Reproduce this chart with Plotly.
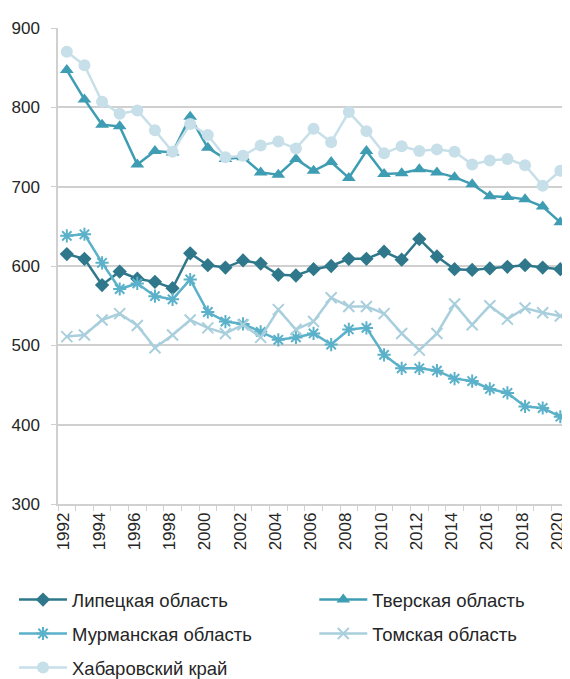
import plotly.graph_objects as go

years = list(range(1992, 2021))
tick_years = list(range(1992, 2021, 2))

lipetsk = [615, 609, 576, 593, 584, 580, 572, 616, 601, 598, 607, 603, 589, 588, 596,
           600, 609, 609, 618, 608, 634, 612, 596, 595, 597, 599, 601, 598, 596]
tver = [847, 810, 778, 776, 728, 745, 743, 788, 749, 735, 737, 718, 715, 735, 720,
        731, 711, 745, 716, 717, 722, 718, 712, 703, 688, 687, 684, 675, 655]
murmansk = [638, 640, 604, 571, 578, 562, 558, 583, 542, 530, 527, 517, 507, 510, 515,
            501, 520, 522, 488, 471, 471, 468, 458, 455, 445, 440, 423, 421, 410]
tomsk = [511, 513, 532, 540, 525, 497, 513, 532, 522, 515, 526, 510, 545, 520, 530,
         560, 549, 549, 540, 515, 494, 515, 552, 526, 550, 533, 547, 541, 537]
khabarovsk = [870, 853, 807, 792, 796, 771, 744, 779, 765, 737, 739, 752, 757, 748, 773,
              756, 794, 770, 742, 751, 745, 747, 744, 728, 733, 735, 727, 701, 720]

# name, values, color, symbol, size, legend id, legend x (container), legend y (container)
series = [
    ("Липецкая область", lipetsk, "#2F788B", "diamond", 11, "legend", 0.0107, 0.1177),
    ("Тверская область", tver, "#3F9DB3", "triangle-up", 12, "legend2", 0.545, 0.1177),
    ("Мурманская область", murmansk, "#5BB1C9", "asterisk-open", 11, "legend3", 0.0107, 0.0671),
    ("Томская область", tomsk, "#A9CFDD", "x-thin-open", 11, "legend4", 0.545, 0.0671),
    ("Хабаровский край", khabarovsk, "#C7DFE8", "circle", 12, "legend5", 0.0107, 0.0164),
]

FONT_FAMILY = "Liberation Sans, Arial, sans-serif"
font = dict(family=FONT_FAMILY, size=18.5, color="#262626")

fig = go.Figure()
legends = {}
for name, vals, color, sym, size, lg, lx, ly in series:
    open_sym = sym.endswith("open")
    fig.add_trace(go.Scatter(
        x=years, y=vals, name=name, mode="lines+markers",
        line=dict(color=color, width=2.5),
        marker=dict(symbol=sym, size=size, color=color,
                    line=dict(color=color, width=2 if open_sym else 0)),
        legend=lg, cliponaxis=False,
    ))
    legends[lg] = dict(orientation="h", x=lx, y=ly, xref="container", yref="container",
                       xanchor="left", yanchor="middle",
                       font=font, bgcolor="rgba(0,0,0,0)", itemwidth=48)

axis_font = dict(family=FONT_FAMILY, size=17, color="#262626")

fig.update_layout(
    width=562, height=671,
    margin=dict(l=50, r=0, t=20, b=175),
    plot_bgcolor="white", paper_bgcolor="white",
    font=font,
    showlegend=True,
    **legends,
    xaxis=dict(
        range=[1991.5, 2020.55], tickmode="array", tickvals=tick_years,
        ticktext=[str(y) for y in tick_years], tickangle=-90,
        showgrid=False, showline=True, linecolor="#D0D0D0", linewidth=1.5,
        ticks="", ticklabeloverflow="allow", automargin=False, ticklabelshift=-3,
        minor=dict(tick0=1991.5, dtick=1, ticks="outside", ticklen=5,
                   tickcolor="#D0D0D0", showgrid=False),
        tickfont=axis_font, zeroline=False,
    ),
    yaxis=dict(
        range=[300, 900], dtick=100, showgrid=True, gridcolor="#D0D0D0", gridwidth=1.5,
        showline=True, linecolor="#D0D0D0", linewidth=1.5, automargin=False,
        ticks="outside", ticklen=5, tickcolor="#D0D0D0", ticklabelstandoff=8,
        tickfont=axis_font, zeroline=False,
    ),
)

fig.write_html("out.html")
